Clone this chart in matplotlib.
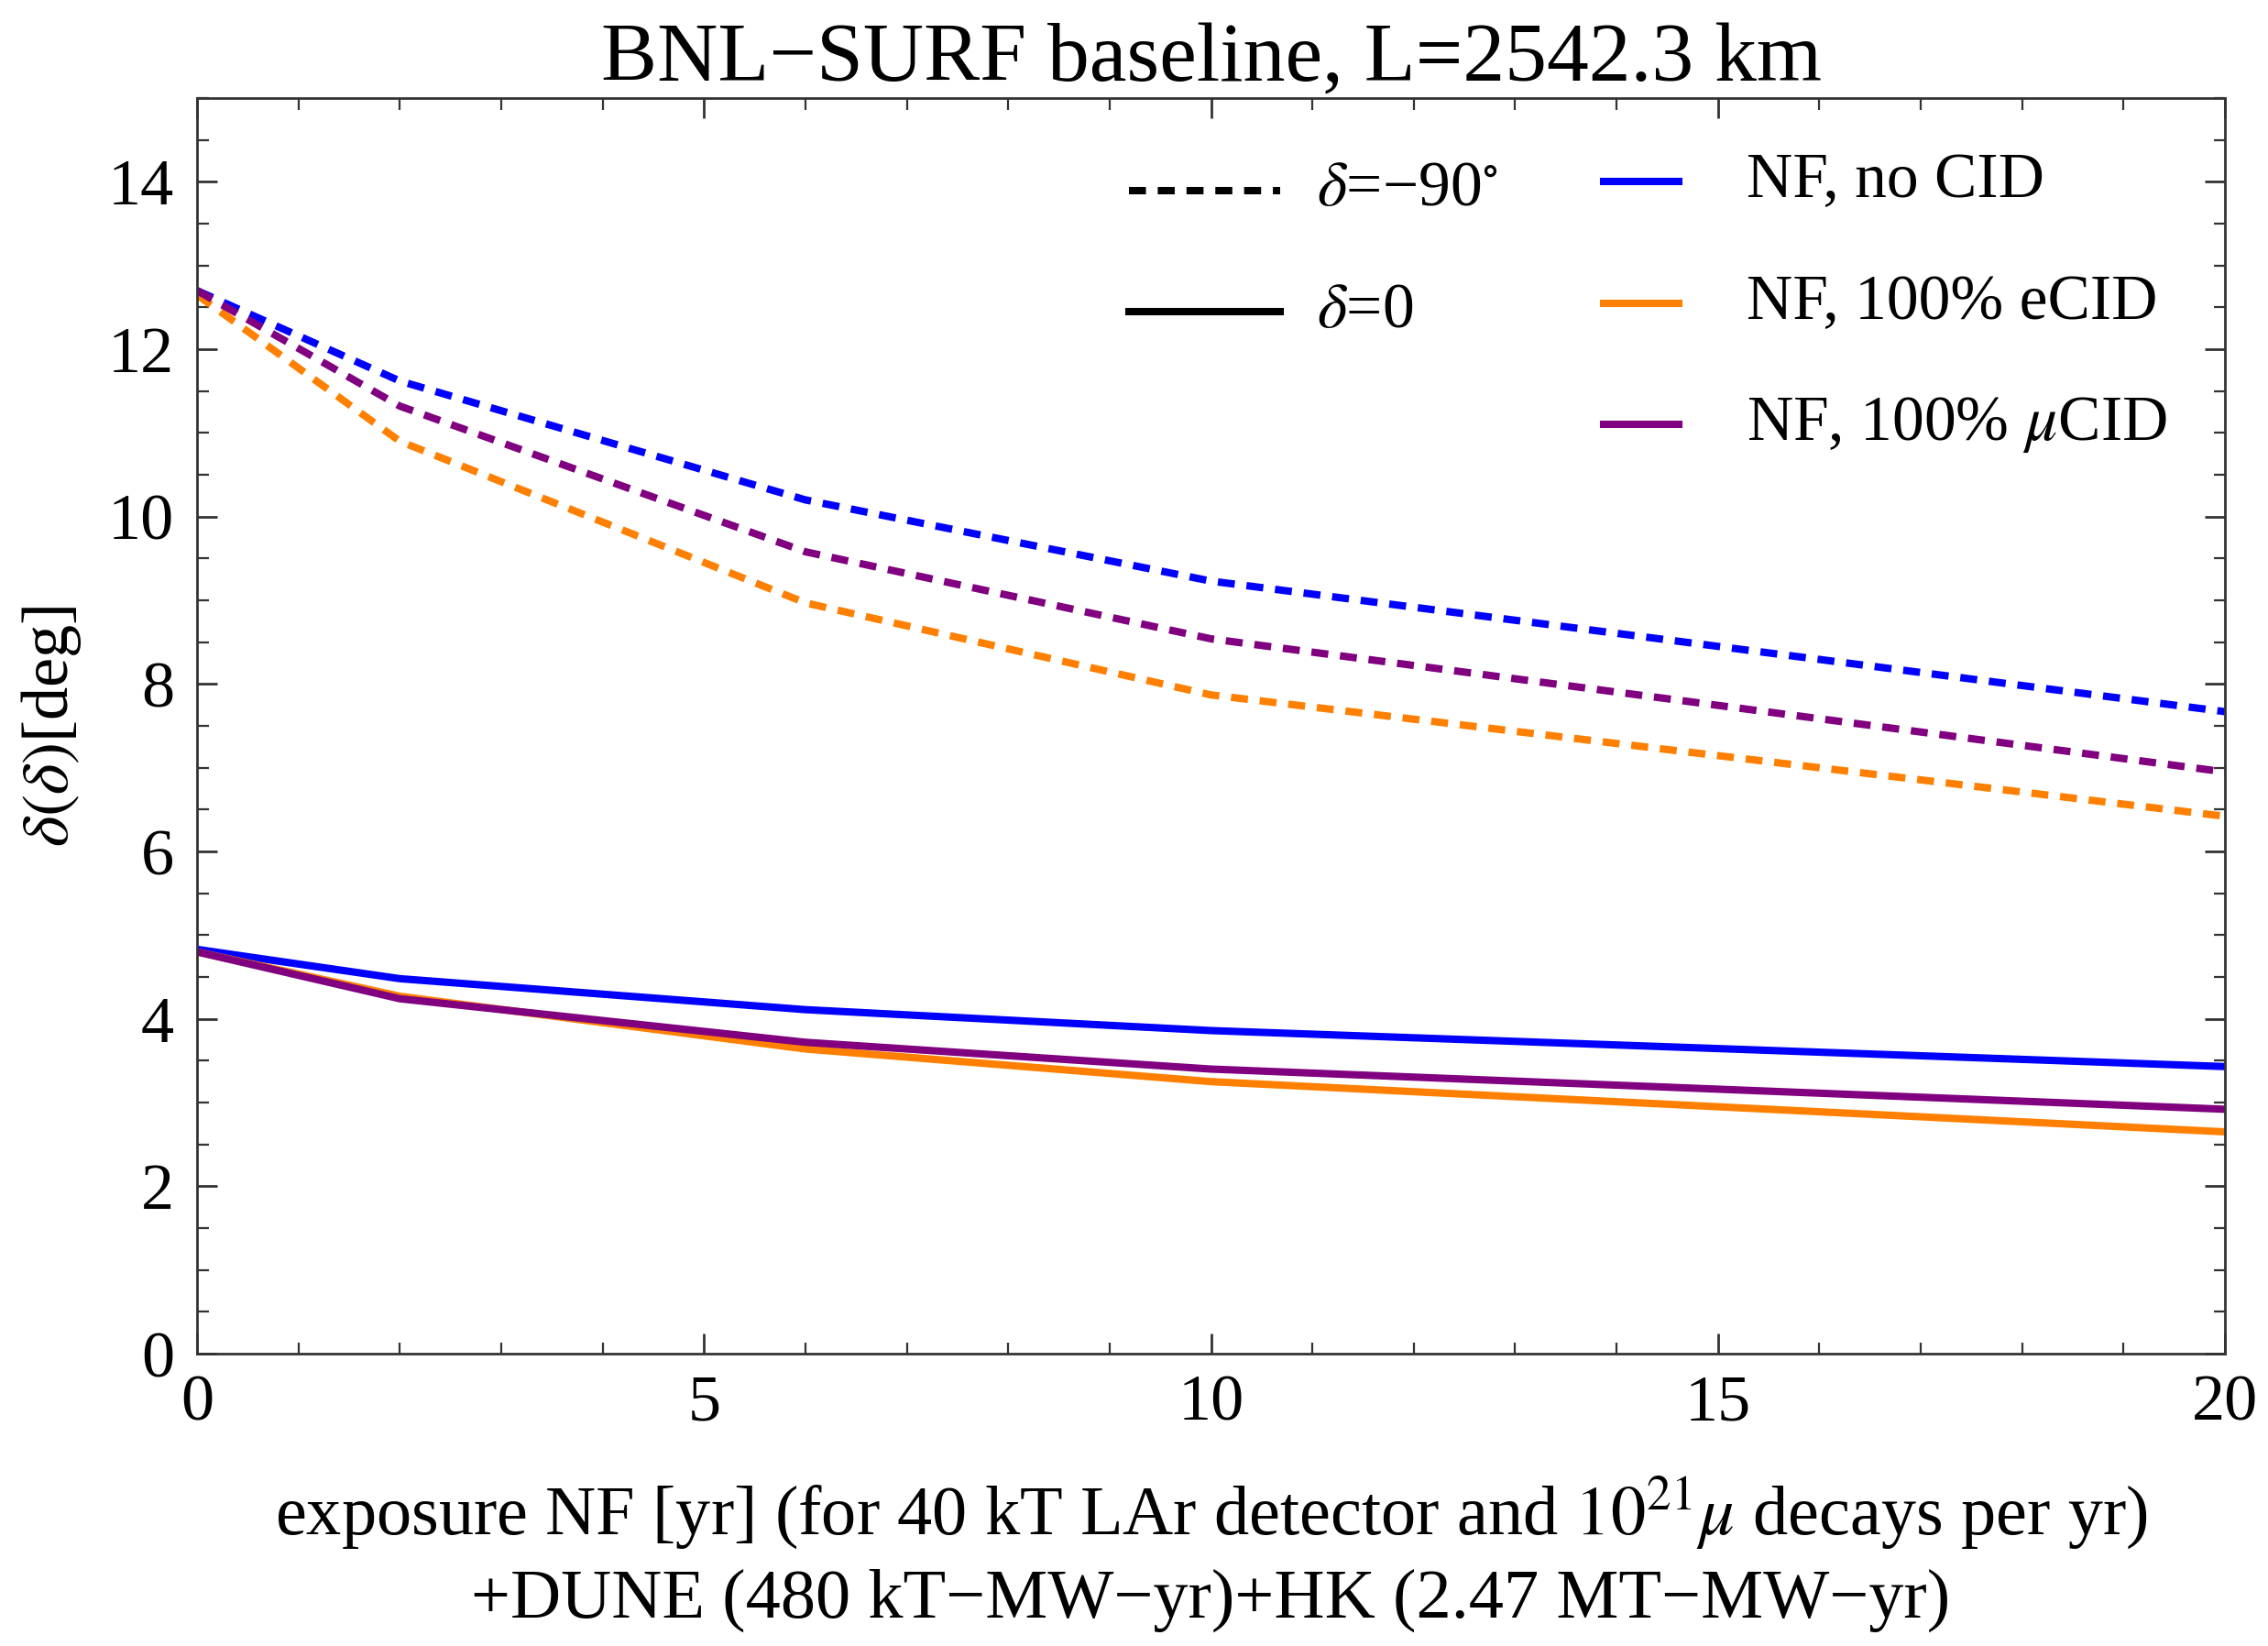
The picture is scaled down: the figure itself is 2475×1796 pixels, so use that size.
import numpy as np
import matplotlib

matplotlib.use("Agg")
import matplotlib.pyplot as plt
from matplotlib.ticker import MultipleLocator

# exposure of the neutrino factory in years
exposure_yr = [0, 2, 6, 10, 20]

# delta = -90 deg (dashed)
m90_no_cid = [12.70, 11.62, 10.20, 9.23, 7.67]
m90_ecid = [12.65, 10.90, 8.97, 7.87, 6.42]
m90_mucid = [12.70, 11.32, 9.58, 8.54, 6.95]

# delta = 0 (solid)
d0_no_cid = [4.83, 4.48, 4.11, 3.86, 3.43]
d0_ecid = [4.80, 4.27, 3.64, 3.25, 2.65]
d0_mucid = [4.80, 4.24, 3.72, 3.40, 2.92]

series_labels = ["NF, no CID", "NF, 100% eCID", r"NF, 100% $\mu$CID"]
series_colors = ["#0000ff", "#ff8000", "#800080"]

plt.rcParams["font.family"] = ["Liberation Serif", "DejaVu Serif"]
plt.rcParams["mathtext.fontset"] = "stix"

fig = plt.figure(figsize=(12.375, 8.98), dpi=200)
ax = fig.add_axes([0.0869, 0.1776, 0.981 - 0.0869, 0.9404 - 0.1776])

dash = (0, (2.3, 1.6))
lw = 2.9
for values, color in zip([m90_no_cid, m90_ecid, m90_mucid], series_colors):
    ax.plot(exposure_yr, values, color=color, linestyle=dash, linewidth=lw)
for values, color in zip([d0_no_cid, d0_ecid, d0_mucid], series_colors):
    ax.plot(exposure_yr, values, color=color, linestyle="-", linewidth=lw)

ax.set_xlim(0, 20)
ax.set_ylim(0, 15)
ax.xaxis.set_major_locator(MultipleLocator(5))
ax.xaxis.set_minor_locator(MultipleLocator(1))
ax.yaxis.set_major_locator(MultipleLocator(2))
ax.yaxis.set_minor_locator(MultipleLocator(0.5))
ax.tick_params(which="both", direction="in", top=True, right=True, labelsize=26, color="#333333")
ax.tick_params(which="major", length=8, width=1.0)
ax.tick_params(which="minor", length=4.5, width=0.8)
ax.tick_params(axis="x", which="major", pad=8)
ax.tick_params(axis="y", which="major", pad=9)
for spine in ax.spines.values():
    spine.set_linewidth(1.0)
    spine.set_color("#333333")

ax.set_title("BNL\u2212SURF baseline, L=2542.3 km", fontsize=33, pad=5)
ax.set_ylabel(r"$\delta(\delta)$[deg]", fontsize=26)
ax.yaxis.set_label_coords(-0.056, 0.5)
ax.set_xlabel(
    "exposure NF [yr] (for 40 kT LAr detector and $10^{21}\\mu$ decays per yr)\n"
    "+DUNE (480 kT\u2212MW\u2212yr)+HK (2.47 MT\u2212MW\u2212yr)",
    fontsize=27.5,
    labelpad=16,
    linespacing=1.36,
)

# hand-placed legend, two columns
ax.plot([9.19, 10.68], [13.9, 13.9], color="black", linestyle=dash, linewidth=lw)
ax.plot([9.19, 10.68], [12.45, 12.45], color="black", linestyle="-", linewidth=lw)
ax.text(11.04, 13.9, "$\\delta$=\u221290$^{\\circ}$", fontsize=25, va="center")
ax.text(11.04, 12.45, r"$\delta$=0", fontsize=25, va="center")
for i, (label, color) in enumerate(zip(series_labels, series_colors)):
    y = 14.0 - i * 1.45
    ax.plot([13.87, 14.61], [y, y], color=color, linewidth=lw)
    ax.text(15.28, y, label, fontsize=25, va="center")

fig.savefig("out.png", dpi=200)
